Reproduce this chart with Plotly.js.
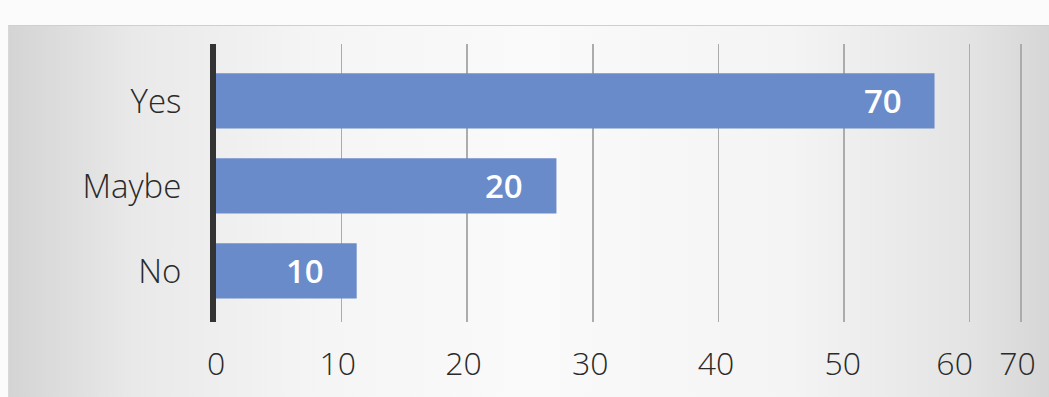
<!DOCTYPE html>
<html>
<head>
<meta charset="utf-8">
<script src="https://cdn.plot.ly/plotly-3.0.1.min.js"></script>
<style>
  html, body { margin:0; padding:0; width:1049px; height:397px; overflow:hidden; background:#fbfbfb; }
  #frame { position:absolute; left:8px; top:25px; width:1041px; height:372px;
    border-top:1px solid #cfcfcf; border-left:1px solid #d8d8d8;
    background: linear-gradient(to right, #d4d4d4 0%, #e9e9e9 12%, #f5f5f5 30%, #fafafa 50%, #f4f4f4 75%, #e4e4e4 92%, #d6d6d6 100%); }
  #chart { position:absolute; left:0; top:0; width:1049px; height:397px; }
</style>
</head>
<body>
<div id="frame"></div>
<div id="chart"></div>
<script>
// Data
const categories = ['No', 'Maybe', 'Yes'];
const barLengths = [11.2, 27.1, 57.2];   // bar lengths as they sit on the axis
const barLabels  = [10, 20, 70];         // numbers printed on the bars
const gridVals   = [10, 20, 30, 40, 50, 60, 64.1];
const tickLabelVals = [0, 9.7, 19.7, 29.8, 39.8, 49.9, 58.8, 63.8];
const tickText   = ['0', '10', '20', '30', '40', '50', '60', '70'];

const barColor = '#6a8bca';
const xRange = [0, 64.8];
const lightFont = 'Open Sans, Noto Sans, sans-serif';

const trace = {
  type: 'bar',
  orientation: 'h',
  y: categories,
  x: barLengths,
  marker: { color: barColor, line: { width: 0 } },
  hoverinfo: 'skip'
};

// helper trace so the label axis is drawn
const labelAxisTrace = {
  type: 'scatter', mode: 'markers',
  x: [xRange[0]], y: [categories[0]],
  xaxis: 'x2', yaxis: 'y',
  marker: { opacity: 0 }, hoverinfo: 'skip', showlegend: false
};

const annotations = categories.map((c, i) => ({
  x: barLengths[i], y: c, xref: 'x', yref: 'y',
  text: String(barLabels[i]),
  showarrow: false, xanchor: 'center', xshift: -52, yshift: 0,
  font: { family: lightFont, size: 33, color: '#ffffff', weight: 600 }
}));

const layout = {
  width: 1049, height: 397,
  margin: { l: 216, r: 19, t: 44, b: 75 },
  paper_bgcolor: 'rgba(0,0,0,0)',
  plot_bgcolor: 'rgba(0,0,0,0)',
  showlegend: false,
  bargap: 0.35,
  xaxis: {
    range: xRange,
    tickmode: 'array', tickvals: gridVals,
    showticklabels: false,
    showgrid: true, gridcolor: '#acacac', gridwidth: 1.5,
    zeroline: false, showline: false, ticks: ''
  },
  xaxis2: {
    overlaying: 'x', anchor: 'y', side: 'bottom',
    range: xRange,
    tickmode: 'array', tickvals: tickLabelVals, ticktext: tickText,
    showgrid: false, zeroline: false, showline: false, ticks: '',
    ticklabelstandoff: 20,
    tickfont: { family: lightFont, size: 32, color: '#2a2a2a', weight: 300 }
  },
  yaxis: {
    type: 'category',
    categoryorder: 'array', categoryarray: categories,
    range: [-0.6, 2.67],
    showgrid: false, zeroline: false,
    showline: true, linecolor: '#333333', linewidth: 6,
    ticks: '', ticklabelstandoff: 22,
    tickfont: { family: lightFont, size: 33, color: '#2a2a2a', weight: 300 }
  },
  annotations: annotations
};

Plotly.newPlot('chart', [trace, labelAxisTrace], layout, { displayModeBar: false, staticPlot: true });
</script>
</body>
</html>
